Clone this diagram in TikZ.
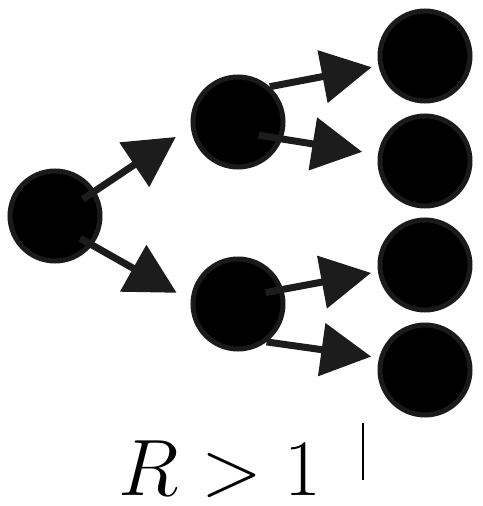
\RequirePackage{fix-cm}
\documentclass[tikz,border=0pt]{standalone}
\usepackage{amsmath,amssymb}
\usepackage{xcolor}
\usetikzlibrary{positioning, arrows.meta}
\definecolor{ringgray}{HTML}{1A1A1A}
\definecolor{shaftgray}{HTML}{1C1C1C}

\begin{document}
\begin{tikzpicture}[x=1pt, y=-1pt,
    case/.style={circle, fill=black, draw=ringgray, line width=5pt, minimum size=90pt, inner sep=0pt, outer sep=2.5pt},
    spread/.style={shaftgray, line width=7pt, -{Triangle[length=50pt, width=52pt]}}]
  \useasboundingbox (0,0) rectangle (482,506);
  \node[case] (src) at (55,216) {};
  \node[case] (upA) at (238,122) {};
  \node[case] (dnA) at (238,304) {};
  \node[case] (endA) at (425,56) {};
  \node[case] (endB) at (425,161) {};
  \node[case] (endC) at (425,265) {};
  \node[case] (endD) at (425,370) {};
  \draw[spread, shorten <=-15pt, shorten >=18pt] (src.32) -- (upA.186);
  \draw[spread, shorten <=-14pt, shorten >=16pt] (src.-38) -- (dnA.176);
  \draw[spread, shorten >=7pt] (upA.48) -- (endA.192);
  \draw[spread, shorten <=-24pt, shorten >=16pt] (upA.-21) -- (endB.172);
  \draw[spread, shorten <=-18pt, shorten >=7pt] (dnA.18) -- (endC.188);
  \draw[spread, shorten >=8pt] (dnA.-53) -- (endD.165);
  \node[anchor=base, inner sep=0pt, text depth=0pt, font=\fontsize{80}{96}\selectfont] (rate) at (220,495) {$R>1$};
  \draw[line width=2pt] (363,423) -- (363,480);
\end{tikzpicture}
\end{document}
